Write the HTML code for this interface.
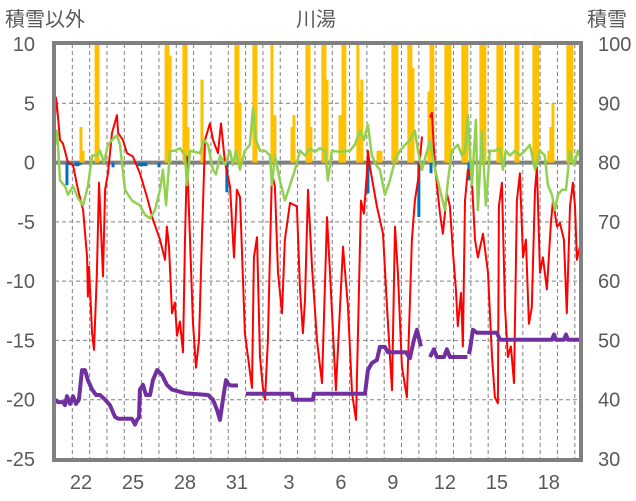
<!DOCTYPE html>
<html><head><meta charset="utf-8">
<style>
html,body{margin:0;padding:0;background:#fff;}
svg{display:block;font-family:"Liberation Sans","Noto Sans CJK JP",sans-serif;}
</style></head>
<body>
<svg id="chart" width="636" height="501" viewBox="0 0 636 501" xmlns="http://www.w3.org/2000/svg">
  <text x="5" y="26" font-size="20" fill="#595959">積雪以外</text>
  <text x="316" y="26" font-size="20" fill="#595959" text-anchor="middle">川湯</text>
  <text x="587" y="26" font-size="20" fill="#595959">積雪</text>
  <g id="grid"></g>
  <g id="bars"></g>
  <g id="lines"></g>
  <g id="axes"></g>
</svg>
<script>
const leftTicks = [10,5,0,-5,-10,-15,-20,-25];
const rightTicks = [100,90,80,70,60,50,40,30];
const xLabels = ["22","25","28","31","3","6","9","12","15","18"];
const xLabelDays = [1.5,4.5,7.5,10.5,13.5,16.5,19.5,22.5,25.5,28.5];
const redT = [0,0.05,0.12,0.29,0.46,0.75,1.04,1.33,1.62,1.85,1.90,1.96,2.14,2.25,2.42,2.54,2.65,2.77,2.89,3.06,3.29,3.58,3.64,3.92,4.15,4.50,4.90,5.31,5.65,6.06,6.35,6.46,6.58,6.75,6.92,7.04,7.21,7.39,7.50,7.62,7.79,7.96,8.14,8.31,8.48,8.66,8.94,9.12,9.41,9.58,9.81,10.10,10.33,10.50,10.68,10.96,11.14,11.37,11.48,11.66,11.83,12.00,12.12,12.29,12.52,12.69,12.87,13.10,13.27,13.56,13.96,14.14,14.31,14.43,14.60,14.83,15.12,15.41,15.70,15.87,16.21,16.62,16.91,17.14,17.37,17.66,17.83,18.00,18.06,18.18,18.58,18.93,19.16,19.45,19.62,19.79,20.02,20.31,20.60,20.77,20.95,21.18,21.40,21.64,21.75,21.93,22.22,22.39,22.62,22.79,22.97,23.14,23.25,23.43,23.54,23.66,23.83,24.06,24.24,24.41,24.70,24.99,25.22,25.39,25.56,25.62,25.79,25.97,26.14,26.31,26.49,26.66,26.83,27.01,27.18,27.35,27.52,27.70,27.81,27.99,28.16,28.39,28.62,28.74,28.97,29.14,29.37,29.54,29.72,29.89,30.01,30.12,30.29];
const redV = [3.8,5.5,4.7,1.9,1.6,0,-0.2,-2.3,-4,-8,-11.3,-8.8,-14.4,-15.8,-9.3,-1.7,-5.4,-9.6,-2.3,-0.9,2.5,4,2.5,1.9,0.8,0.5,-0.9,-2.9,-4.8,-6.5,-8.2,-5.4,-7.1,-12.7,-11.8,-14.6,-13.4,-16,-6.5,0.5,-6.5,-13.4,-17.3,-15,-6.5,1.9,3.3,1.9,0.8,3.3,0,-2,-8,-2.3,-2.9,-14.4,-16.4,-19,-8,-6.3,-16.4,-19,-20,-15,-0.9,-2,-9.3,-12.7,-6.5,-3.4,-3.7,-10.7,-14.4,-11.6,-2.3,-8.8,-15,-18.6,-4.6,-9.3,-19.2,-7.1,-12.2,-19.4,-21.7,-3.2,-4.3,-0.9,1,-0.4,-3.7,-6,-12.2,-19.2,-5.4,-9.3,-17.2,-19.8,-6.5,-3.2,-1.5,2.2,null,3.8,4.2,-0.4,-4.3,-6,-2.6,-3.7,-7.6,-10.7,-13.8,-11,-15.5,-3.2,-0.6,-1.5,-6.5,-8,-6,-9.3,-16.4,-19.8,-20.3,-3.7,-1.7,-12.2,-16.4,-15.5,-18.6,-3.2,-0.9,-8,-6.5,-13.6,-12.2,-2.3,-0.4,-9.3,-8,-10.7,-5.1,-3.2,-5.4,-5.1,-6.5,-12.7,-3.7,-1.7,-3.7,-8.2,-7.1];
const greenT = [0,0.12,0.29,0.58,0.75,1.04,1.33,1.62,1.90,2.14,2.42,2.60,2.83,3.06,3.29,3.58,3.75,4.04,4.44,4.90,5.19,5.48,5.77,6.06,6.23,6.41,6.64,6.92,7.21,7.50,7.62,7.79,8.08,8.37,8.60,8.83,9.12,9.29,9.52,9.81,10.10,10.27,10.44,10.68,10.96,11.25,11.43,11.60,11.83,12.12,12.41,12.52,12.69,12.98,13.27,13.56,13.85,14.14,14.43,14.71,15.00,15.29,15.58,15.75,15.98,16.45,17.02,17.31,17.60,17.83,18.06,18.29,18.52,18.75,19.04,19.33,19.62,19.91,20.20,20.48,20.77,20.95,21.18,21.64,21.93,22.22,22.50,22.68,22.91,23.25,23.49,23.66,23.83,24.06,24.29,24.41,24.64,24.87,25.10,25.39,25.68,25.85,26.02,26.26,26.54,26.83,27.12,27.41,27.70,27.99,28.27,28.45,28.68,28.85,29.03,29.26,29.49,29.72,29.95,30.18,30.29];
const greenV = [1.5,2.7,-1.5,-2,-2.7,-2,-3,-3.6,-2,0.6,0.6,1,0,1.5,1.9,2.3,1.5,-2.3,-3.2,-3.6,-4.4,-4.7,-4,-2.3,-0.6,-3.6,1,1,1.2,0.6,-1.9,1,0.9,0.8,1.9,1.5,-0.6,-1,0.6,-0.2,1,-0.2,1,-0.6,1,1.5,4.6,1.9,1,1,0.6,-1.9,0.6,-1.5,-3.2,-1.9,-0.6,1,0.6,1.2,0.9,1.2,1,-1.5,1,0.9,1,1.5,2.7,1.9,3.2,0.6,-0.2,-0.6,-2.7,-1.5,0.2,1,1.5,1.9,2.7,1,-0.6,1.9,-0.6,-2.3,-4,-1.5,1,1.5,0.6,1,4,-1.9,3.6,-4,2.7,-3.6,1,1,1.2,-0.6,1,0.6,1,0.6,1,1.5,-0.6,1,0.6,-1.9,-2.7,-4,-2.7,-2.3,-2.3,1,-0.2,1,0.6];
const snowT = [0,0.17,0.46,0.58,0.69,0.87,1.04,1.21,1.38,1.56,1.73,1.90,2.14,2.37,2.60,2.89,3.17,3.46,3.64,4.44,4.62,4.73,4.85,4.90,5.08,5.25,5.48,5.65,5.89,6.17,6.46,6.75,7.50,8.83,9.12,9.35,9.52,9.69,9.87,10.04,10.21,10.56,10.80,11.02,13.68,13.73,14.89,14.94,17.89,18.06,18.29,18.58,18.75,19.04,19.21,20.25,20.48,20.71,20.89,21.12,21.40,21.64,21.87,22.04,22.45,22.62,22.79,23.80,23.85,23.89,23.95,24.12,24.35,25.50,25.68,28.68,28.80,28.91,29.37,29.49,29.60,30.29];
const snowV = [40,39.6,39.6,39.1,40.6,39.3,40.6,39.3,40,45,45,43.3,41.7,40.8,40.8,40,39.1,37.1,36.8,36.8,35.8,36.6,37,41.7,42.5,40.8,40.8,43.3,45,44.2,42.5,41.7,41.1,40.8,40,38.3,36.6,40,43.3,42.5,42.4,42.4,null,41,41,40,40,41,41,45,46.2,46.7,48.9,48.9,48,48,47,50,51.8,49,null,47.2,48.5,47.2,47.2,48.5,47.2,47.2,null,47.7,48.5,51.8,51.3,51.3,50.1,50.1,51,50.1,50.1,51,50.1,50.1];
const snowfallT = [1.50,1.62,2.37,2.48,6.41,6.52,6.64,7.44,7.56,7.67,8.48,10.44,10.56,10.68,11.48,11.60,12.52,12.69,13.68,13.79,14.54,14.66,14.77,15.46,15.58,15.70,16.45,16.62,16.73,17.48,17.60,17.71,18.64,18.81,19.50,19.62,19.73,20.42,20.54,20.66,21.58,21.70,21.81,22.56,22.68,22.79,23.54,23.66,23.77,24.58,24.70,24.81,25.56,25.68,25.79,26.60,26.72,27.64,27.76,27.87,28.50,28.62,28.74,29.60,29.72,29.83];
const snowfallV = [3,1,10,10,10,10,9,10,10,3,7,10,10,5,10,10,10,4,3,4,10,10,3,10,10,7,4,10,10,10,6,7,1,1,10,10,10,10,10,8,6,10,10,10,10,10,10,10,10,10,10,10,10,10,10,10,10,10,10,10,1,3,5,10,10,10];
const negT = [0.69,0.81,0.92,1.21,1.33,1.44,3.35,4.85,4.96,5.08,5.25,6.00,9.92,18.06,21.00,21.70,23.89];
const negV = [-1.9,-0.2,-0.2,-0.3,-0.3,-0.2,-0.4,-0.3,-0.3,-0.3,-0.3,-0.4,-2.5,-2.6,-4.6,-0.9,-1.5];

const NS = "http://www.w3.org/2000/svg";
const PL = 55, PR = 580, PT = 44, PB = 459;
const X0 = 0, X1 = 30.3;
function xs(t){ return PL + (t - X0) / (X1 - X0) * (PR - PL); }
function yl(v){ return PT + (10 - v) / 35 * (PB - PT); }
function yr(v){ return PT + (100 - v) / 70 * (PB - PT); }
function mk(tag, attrs, parent){
  const e = document.createElementNS(NS, tag);
  for (const k in attrs) e.setAttribute(k, attrs[k]);
  parent.appendChild(e);
  return e;
}
const grid = document.getElementById('grid');
const bars = document.getElementById('bars');
const lines = document.getElementById('lines');
const axes = document.getElementById('axes');

// horizontal gridlines
leftTicks.forEach(v => {
  if (v === 10 || v === -25 || v === 0) return;
  const l = mk('line', {x1: PL, x2: PR, y1: yl(v), y2: yl(v), stroke: '#808080', 'stroke-width': 1, 'stroke-dasharray': '4,3'}, grid);
  
  
});
// vertical day gridlines
for (let d = 1; d <= 30; d++) {
  const l = mk('line', {x1: xs(d), x2: xs(d), y1: PT, y2: PB, stroke: '#808080', 'stroke-width': 1, 'stroke-dasharray': '4,3'}, grid);
  
  
}
// snowfall bars
snowfallT.forEach((t, i) => {
  const v = Math.min(snowfallV[i], 10);
  const r = mk('rect', {x: xs(t) - 1.5, y: yl(v), width: 3, height: yl(0) - yl(v), fill: '#ffc000'}, bars);
  
  
});
// negative bars
negT.forEach((t, i) => {
  const r = mk('rect', {x: xs(t) - 1.5, y: yl(0), width: 3, height: yl(negV[i]) - yl(0), fill: '#0070c0'}, bars);
  
  
});
// zero line
const z = mk('line', {x1: PL, x2: PR, y1: yl(0), y2: yl(0), stroke: '#808080', 'stroke-width': 4}, grid);



function pathFrom(ts, vs, yf){
  let d = '', pen = false;
  ts.forEach((t, i) => {
    const v = vs[i];
    if (v === null) { pen = false; return; }
    d += (pen ? 'L' : 'M') + xs(t).toFixed(1) + ',' + yf(v).toFixed(1);
    pen = true;
  });
  return d;
}
const red = mk('path', {d: pathFrom(redT, redV, yl), fill: 'none', stroke: '#ff0000', 'stroke-width': 2, 'stroke-linejoin': 'round'}, lines);


const green = mk('path', {d: pathFrom(greenT, greenV, yl), fill: 'none', stroke: '#92d050', 'stroke-width': 2.5, 'stroke-linejoin': 'round'}, lines);


const purple = mk('path', {d: pathFrom(snowT, snowV, yr), fill: 'none', stroke: '#7030a0', 'stroke-width': 4, 'stroke-linejoin': 'round'}, lines);



// frame
const fr = mk('rect', {x: PL - 1, y: PT - 1, width: PR - PL + 2, height: PB - PT + 2, fill: 'none', stroke: '#808080', 'stroke-width': 4}, axes);



// tick labels
leftTicks.forEach(v => {
  const t = mk('text', {x: 35, y: yl(v) + 7, 'font-size': 20, fill: '#595959', 'text-anchor': 'end'}, axes);
  t.textContent = String(v);
  
  
});
rightTicks.forEach(v => {
  const t = mk('text', {x: 598, y: yr(v) + 7, 'font-size': 20, fill: '#595959'}, axes);
  t.textContent = String(v);
  
  
});
xLabels.forEach((s, i) => {
  const t = mk('text', {x: xs(xLabelDays[i]), y: 489, 'font-size': 20, fill: '#595959', 'text-anchor': 'middle'}, axes);
  t.textContent = s;
  
  
});
</script>
</body></html>
